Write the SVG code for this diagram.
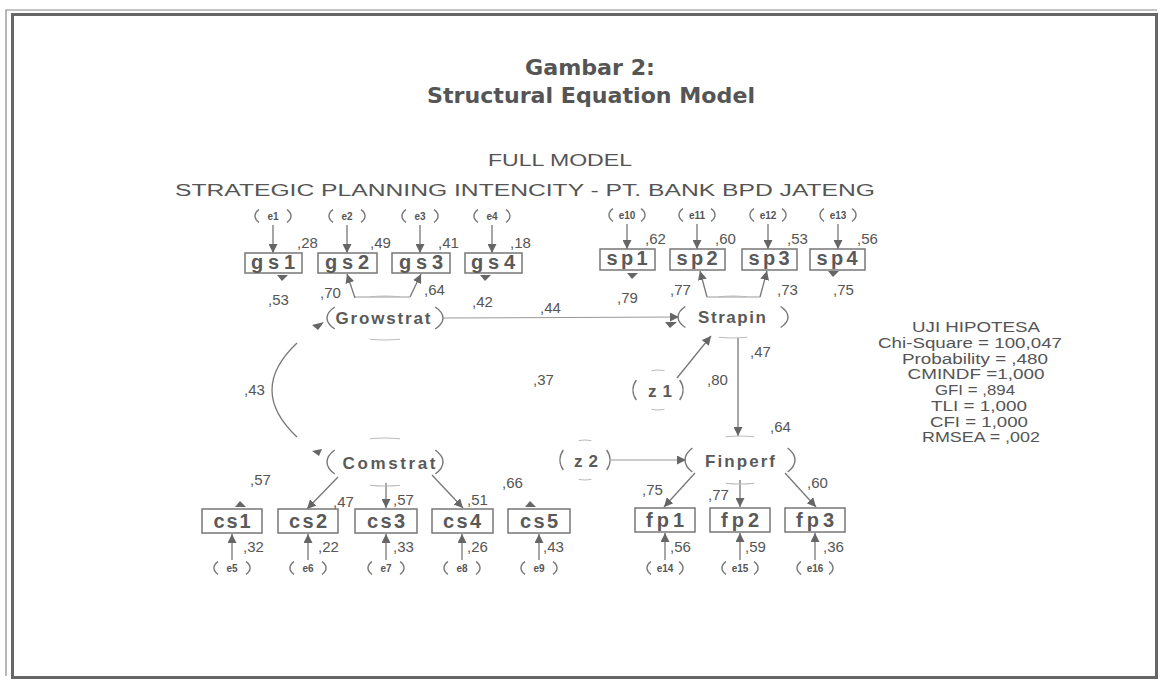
<svg xmlns="http://www.w3.org/2000/svg" width="1162" height="682" viewBox="0 0 1162 682">
<defs>
<style>
.title{font-family:"DejaVu Sans",sans-serif;font-stretch:condensed;font-weight:bold;font-size:22px;fill:#555}
.head{font-family:"Liberation Sans",Arial,sans-serif;font-size:16px;fill:#555}
.num{font-family:"Liberation Sans",Arial,sans-serif;font-size:15px;fill:#555}
.box{fill:none;stroke:#777;stroke-width:1.5}
.blbl{font-family:"Liberation Sans",Arial,sans-serif;font-weight:bold;font-size:20px;fill:#5a5a5a;text-anchor:middle}
.lat{font-family:"Liberation Sans",Arial,sans-serif;font-weight:bold;font-size:17px;fill:#5a5a5a;text-anchor:middle}
.elbl{font-family:"Liberation Sans",Arial,sans-serif;font-weight:bold;font-size:10px;fill:#555;text-anchor:middle}
.side{fill:none;stroke:#777;stroke-width:1.4}
.faint{fill:none;stroke:#bbb;stroke-width:1.1}
.ln{fill:none;stroke:#777;stroke-width:1.3}
.lnl{fill:none;stroke:#999;stroke-width:1.1}
.tri{fill:#666}
.fit{font-family:"Liberation Sans",Arial,sans-serif;font-size:15.5px;fill:#555;text-anchor:middle}
</style>
<marker id="ah" viewBox="0 0 10 10" refX="10" refY="5" markerWidth="9" markerHeight="9" markerUnits="userSpaceOnUse" orient="auto">
<path d="M0,0 L10,5 L0,10 z" fill="#666"/>
</marker>
<path id="eo" d="M-14,-6.3 A18,10 0 0 0 -14,6.3 M14,-6.3 A18,10 0 0 1 14,6.3"/>
<path id="ls" d="M-0.866,-0.5 A1,1 0 0 0 -0.866,0.5 M0.866,-0.5 A1,1 0 0 1 0.866,0.5" vector-effect="non-scaling-stroke"/>
<path id="lt" d="M-0.259,-0.966 A1,1 0 0 1 0.259,-0.966 M-0.259,0.966 A1,1 0 0 0 0.259,0.966" vector-effect="non-scaling-stroke"/>
</defs>
<rect x="0" y="0" width="1162" height="682" fill="#fff"/>
<g id="frame">
<path d="M6,676 L6,10 L1157,10" fill="none" stroke="#888" stroke-width="1.2"/>
<rect x="12.5" y="14.5" width="1144" height="663" fill="none" stroke="#666" stroke-width="3"/>
</g>
<g id="headings">
<text class="title" x="590" y="75" text-anchor="middle" textLength="130" lengthAdjust="spacingAndGlyphs">Gambar 2:</text>
<text class="title" x="591" y="103" text-anchor="middle" textLength="328" lengthAdjust="spacingAndGlyphs">Structural Equation Model</text>
<text class="head" x="560" y="166" text-anchor="middle" textLength="144" lengthAdjust="spacingAndGlyphs">FULL MODEL</text>
<text class="head" x="525" y="196" text-anchor="middle" textLength="700" lengthAdjust="spacingAndGlyphs">STRATEGIC PLANNING INTENCITY - PT. BANK BPD JATENG</text>
</g>
<g id="connectors">
<line class="ln" x1="273" y1="225" x2="273" y2="253" marker-end="url(#ah)"/>
<line class="ln" x1="347" y1="225" x2="347" y2="253" marker-end="url(#ah)"/>
<line class="ln" x1="420" y1="225" x2="420" y2="253" marker-end="url(#ah)"/>
<line class="ln" x1="492" y1="225" x2="492" y2="253" marker-end="url(#ah)"/>
<line class="ln" x1="627" y1="224" x2="627" y2="249" marker-end="url(#ah)"/>
<line class="ln" x1="697" y1="224" x2="697" y2="249" marker-end="url(#ah)"/>
<line class="ln" x1="768" y1="224" x2="768" y2="249" marker-end="url(#ah)"/>
<line class="ln" x1="838" y1="224" x2="838" y2="249" marker-end="url(#ah)"/>
<line class="ln" x1="355" y1="298" x2="347" y2="274" marker-end="url(#ah)"/>
<line class="ln" x1="410" y1="297" x2="421" y2="274" marker-end="url(#ah)"/>
<line class="lnl" x1="355" y1="297" x2="410" y2="297"/>
<line class="ln" x1="707" y1="297" x2="700" y2="271" marker-end="url(#ah)"/>
<line class="ln" x1="760" y1="297" x2="767" y2="271" marker-end="url(#ah)"/>
<line class="lnl" x1="707" y1="297" x2="760" y2="297"/>
<line class="lnl" x1="443" y1="318" x2="679" y2="317" marker-end="url(#ah)"/>
<line class="ln" x1="677" y1="378" x2="711" y2="336" marker-end="url(#ah)"/>
<line class="ln" x1="738" y1="338" x2="738" y2="436" marker-end="url(#ah)"/>
<line class="lnl" x1="611" y1="460" x2="686" y2="460" marker-end="url(#ah)"/>
<path class="ln" d="M297,343 Q247,390 297,437"/>
<line class="ln" x1="338" y1="477" x2="307" y2="509" marker-end="url(#ah)"/>
<line class="ln" x1="386" y1="483" x2="386" y2="508" marker-end="url(#ah)"/>
<line class="ln" x1="432" y1="475" x2="463" y2="508" marker-end="url(#ah)"/>
<line class="ln" x1="695" y1="473" x2="664" y2="507" marker-end="url(#ah)"/>
<line class="ln" x1="740" y1="480" x2="740" y2="507" marker-end="url(#ah)"/>
<line class="ln" x1="785" y1="473" x2="816" y2="507" marker-end="url(#ah)"/>
<line class="ln" x1="232" y1="560" x2="232" y2="534" marker-end="url(#ah)"/>
<line class="ln" x1="308" y1="560" x2="308" y2="534" marker-end="url(#ah)"/>
<line class="ln" x1="386" y1="560" x2="386" y2="534" marker-end="url(#ah)"/>
<line class="ln" x1="462" y1="560" x2="462" y2="534" marker-end="url(#ah)"/>
<line class="ln" x1="539" y1="560" x2="539" y2="534" marker-end="url(#ah)"/>
<line class="ln" x1="665" y1="560" x2="665" y2="533" marker-end="url(#ah)"/>
<line class="ln" x1="740" y1="560" x2="740" y2="533" marker-end="url(#ah)"/>
<line class="ln" x1="815" y1="560" x2="815" y2="533" marker-end="url(#ah)"/>
<path class="tri" d="M277,275 L288,275 L282,281 z"/>
<path class="tri" d="M480,275 L491,275 L485,281 z"/>
<path class="tri" d="M627,273 L638,273 L632,279 z"/>
<path class="tri" d="M828,271 L839,271 L833,277 z"/>
<path class="tri" d="M312,325 L324,322 L318,330 z"/>
<path class="tri" d="M665,322 L677,322 L670,328 z"/>
<path class="tri" d="M312,451 L322,449 L319,456 z"/>
<path class="tri" d="M235,507 L246,507 L240,501 z"/>
<path class="tri" d="M525,507 L536,507 L530,501 z"/>
</g>
<g id="e1"><use href="#eo" class="side" x="273" y="216"/><text class="elbl" x="273" y="219.5">e1</text></g>
<g id="e2"><use href="#eo" class="side" x="347" y="216"/><text class="elbl" x="347" y="219.5">e2</text></g>
<g id="e3"><use href="#eo" class="side" x="420" y="216"/><text class="elbl" x="420" y="219.5">e3</text></g>
<g id="e4"><use href="#eo" class="side" x="492" y="216"/><text class="elbl" x="492" y="219.5">e4</text></g>
<g id="e10"><use href="#eo" class="side" x="627" y="215"/><text class="elbl" x="627" y="218.5">e10</text></g>
<g id="e11"><use href="#eo" class="side" x="697" y="215"/><text class="elbl" x="697" y="218.5">e11</text></g>
<g id="e12"><use href="#eo" class="side" x="768" y="215"/><text class="elbl" x="768" y="218.5">e12</text></g>
<g id="e13"><use href="#eo" class="side" x="838" y="215"/><text class="elbl" x="838" y="218.5">e13</text></g>
<g id="e5"><use href="#eo" class="side" x="232" y="568"/><text class="elbl" x="232" y="571.5">e5</text></g>
<g id="e6"><use href="#eo" class="side" x="308" y="568"/><text class="elbl" x="308" y="571.5">e6</text></g>
<g id="e7"><use href="#eo" class="side" x="386" y="568"/><text class="elbl" x="386" y="571.5">e7</text></g>
<g id="e8"><use href="#eo" class="side" x="462" y="568"/><text class="elbl" x="462" y="571.5">e8</text></g>
<g id="e9"><use href="#eo" class="side" x="539" y="568"/><text class="elbl" x="539" y="571.5">e9</text></g>
<g id="e14"><use href="#eo" class="side" x="665" y="568"/><text class="elbl" x="665" y="571.5">e14</text></g>
<g id="e15"><use href="#eo" class="side" x="740" y="568"/><text class="elbl" x="740" y="571.5">e15</text></g>
<g id="e16"><use href="#eo" class="side" x="815" y="568"/><text class="elbl" x="815" y="571.5">e16</text></g>
<g id="gs1"><rect class="box" x="245" y="253" width="57" height="20"/><text class="blbl" x="273" y="269" textLength="44">gs1</text></g>
<g id="gs2"><rect class="box" x="318" y="253" width="59" height="20"/><text class="blbl" x="347" y="269" textLength="44">gs2</text></g>
<g id="gs3"><rect class="box" x="392" y="253" width="58" height="20"/><text class="blbl" x="421" y="269" textLength="44">gs3</text></g>
<g id="gs4"><rect class="box" x="465" y="253" width="57" height="20"/><text class="blbl" x="493" y="269" textLength="44">gs4</text></g>
<g id="sp1"><rect class="box" x="600" y="249" width="55" height="21"/><text class="blbl" x="627" y="265" textLength="41">sp1</text></g>
<g id="sp2"><rect class="box" x="670" y="249" width="55" height="21"/><text class="blbl" x="697" y="265" textLength="41">sp2</text></g>
<g id="sp3"><rect class="box" x="742" y="249" width="55" height="21"/><text class="blbl" x="769" y="265" textLength="41">sp3</text></g>
<g id="sp4"><rect class="box" x="810" y="249" width="55" height="21"/><text class="blbl" x="837" y="265" textLength="41">sp4</text></g>
<g id="cs1"><rect class="box" x="202" y="509" width="60" height="24"/><text class="blbl" x="232" y="528" textLength="37">cs1</text></g>
<g id="cs2"><rect class="box" x="278" y="509" width="60" height="24"/><text class="blbl" x="308" y="528" textLength="38">cs2</text></g>
<g id="cs3"><rect class="box" x="355" y="509" width="62" height="24"/><text class="blbl" x="386" y="528" textLength="38">cs3</text></g>
<g id="cs4"><rect class="box" x="432" y="509" width="61" height="24"/><text class="blbl" x="462" y="528" textLength="38">cs4</text></g>
<g id="cs5"><rect class="box" x="508" y="509" width="62" height="24"/><text class="blbl" x="539" y="528" textLength="38">cs5</text></g>
<g id="fp1"><rect class="box" x="635" y="508" width="60" height="24"/><text class="blbl" x="665" y="527" textLength="38">fp1</text></g>
<g id="fp2"><rect class="box" x="710" y="508" width="60" height="24"/><text class="blbl" x="740" y="527" textLength="38">fp2</text></g>
<g id="fp3"><rect class="box" x="785" y="508" width="60" height="24"/><text class="blbl" x="815" y="527" textLength="38">fp3</text></g>
<g id="Growstrat"><use href="#ls" class="side" transform="translate(385,318) scale(58,22)"/><use href="#lt" class="faint" transform="translate(385,318) scale(58,22)"/><text class="lat" x="383" y="324" textLength="95">Growstrat</text></g>
<g id="Strapin"><use href="#ls" class="side" transform="translate(733,317) scale(55,21)"/><use href="#lt" class="faint" transform="translate(733,317) scale(55,21)"/><text class="lat" x="732" y="323" textLength="68">Strapin</text></g>
<g id="Comstrat"><use href="#ls" class="side" transform="translate(385,462) scale(58,24)"/><use href="#lt" class="faint" transform="translate(385,462) scale(58,24)"/><text class="lat" x="389" y="469" textLength="93">Comstrat</text></g>
<g id="Finperf"><use href="#ls" class="side" transform="translate(740,460) scale(55,24)"/><use href="#lt" class="faint" transform="translate(740,460) scale(55,24)"/><text class="lat" x="740" y="467" textLength="70">Finperf</text></g>
<g id="z1"><use href="#ls" class="side" transform="translate(658,390) scale(25,20)"/><use href="#lt" class="faint" transform="translate(658,390) scale(25,20)"/><text class="lat" x="660" y="397" font-size="19" textLength="24">z1</text></g>
<g id="z2"><use href="#ls" class="side" transform="translate(585,460) scale(25,20)"/><use href="#lt" class="faint" transform="translate(585,460) scale(25,20)"/><text class="lat" x="586" y="467" font-size="19" textLength="24">z2</text></g>
<g id="labels" class="num">
<text x="297" y="248">,28</text><text x="370" y="248">,49</text><text x="438" y="248">,41</text><text x="510" y="248">,18</text>
<text x="645" y="244">,62</text><text x="715" y="244">,60</text><text x="787" y="244">,53</text><text x="857" y="244">,56</text>
<text x="268" y="305">,53</text><text x="320" y="298">,70</text><text x="424" y="295">,64</text><text x="472" y="307">,42</text>
<text x="617" y="303">,79</text><text x="670" y="295">,77</text><text x="777" y="295">,73</text><text x="833" y="295">,75</text>
<text x="540" y="313">,44</text>
<text x="750" y="357">,47</text><text x="707" y="385">,80</text><text x="770" y="432">,64</text><text x="533" y="385">,37</text><text x="244" y="395">,43</text>
<text x="250" y="485">,57</text><text x="333" y="507">,47</text><text x="393" y="505">,57</text><text x="467" y="505">,51</text><text x="502" y="488">,66</text>
<text x="243" y="552">,32</text><text x="318" y="552">,22</text><text x="393" y="552">,33</text><text x="467" y="552">,26</text><text x="543" y="552">,43</text>
<text x="642" y="495">,75</text><text x="708" y="500">,77</text><text x="807" y="488">,60</text>
<text x="670" y="552">,56</text><text x="745" y="552">,59</text><text x="823" y="552">,36</text>
</g>
<g id="uji">
<text class="fit" x="976" y="332" textLength="128" lengthAdjust="spacingAndGlyphs">UJI HIPOTESA</text>
<text class="fit" x="970" y="348" textLength="184" lengthAdjust="spacingAndGlyphs">Chi-Square = 100,047</text>
<text class="fit" x="975" y="364" textLength="146" lengthAdjust="spacingAndGlyphs">Probability = ,480</text>
<text class="fit" x="976" y="379" textLength="137" lengthAdjust="spacingAndGlyphs">CMINDF =1,000</text>
<text class="fit" x="975" y="395" textLength="80" lengthAdjust="spacingAndGlyphs">GFI = ,894</text>
<text class="fit" x="979" y="411" textLength="96" lengthAdjust="spacingAndGlyphs">TLI = 1,000</text>
<text class="fit" x="979" y="427" textLength="98" lengthAdjust="spacingAndGlyphs">CFI = 1,000</text>
<text class="fit" x="981" y="442" textLength="118" lengthAdjust="spacingAndGlyphs">RMSEA = ,002</text>
</g>
</svg>
